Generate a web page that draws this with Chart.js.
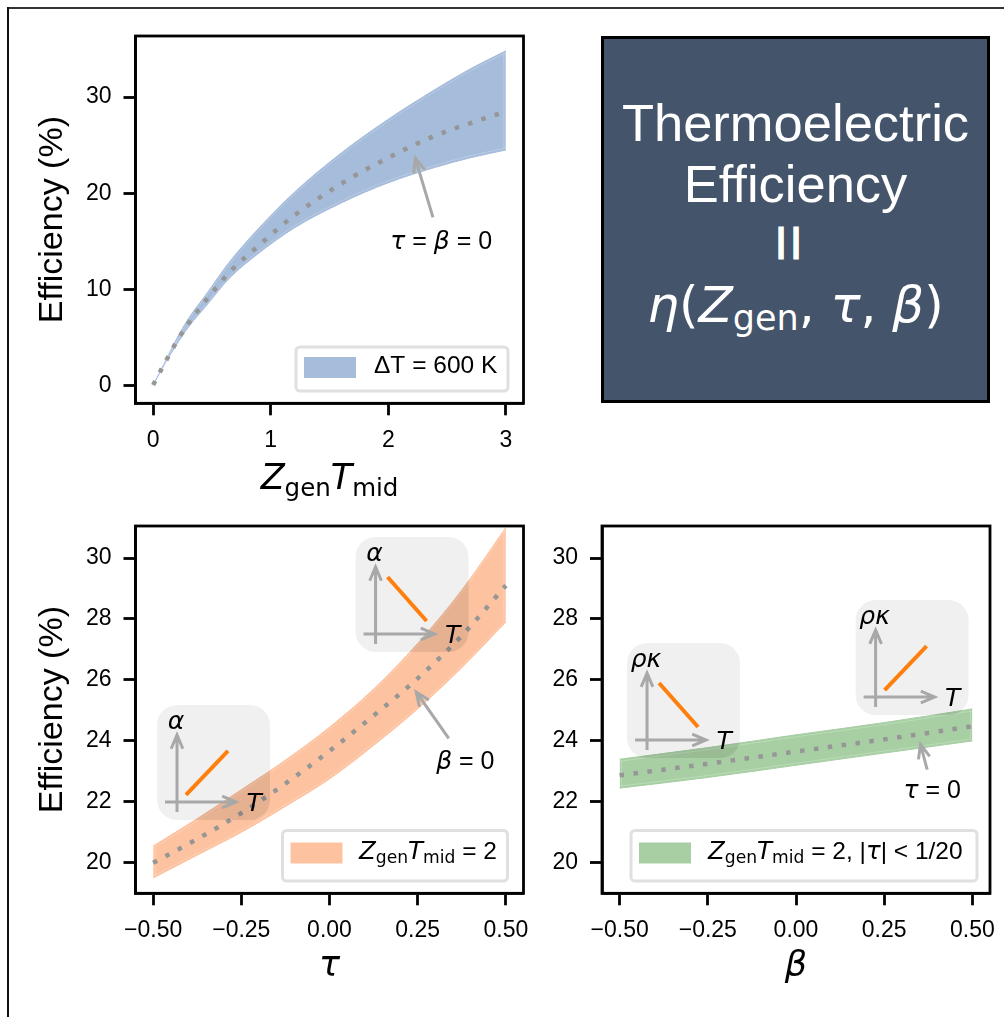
<!DOCTYPE html>
<html>
<head>
<meta charset="utf-8">
<script src="https://cdn.jsdelivr.net/npm/chart.js@4"></script>
<style>
html, body { margin: 0; padding: 0; background: #fff; }
body { position: relative; width: 1004px; height: 1017px; overflow: hidden; }
canvas { position: absolute; }
#frameTop { position: absolute; left: 7px; top: 7px; width: 997px; height: 2px; background: #333; }
#frameLeft { position: absolute; left: 7px; top: 7px; width: 2px; height: 1010px; background: #111; }
#box { position: absolute; left: 601px; top: 36px; width: 383px; height: 361px; background: #44546a; border: 3px solid #000; }
#box div { position: absolute; left: 0; width: 100%; text-align: center; color: #fff; white-space: nowrap; }
.word { font: 52.5px/60px "Liberation Sans", sans-serif; }
.bars { font: 47px/60px "Liberation Sans", sans-serif; letter-spacing: 2px; -webkit-text-stroke: 1px #fff; }
.math { font: 50px/60px "DejaVu Sans", sans-serif; }
.math i { font-style: italic; }
.math sub { font-size: 35px; vertical-align: baseline; position: relative; top: 8px; line-height: 0; }
</style>
</head>
<body>
<div id="frameTop"></div>
<div id="frameLeft"></div>
<canvas id="zt" width="560" height="510" style="left:0;top:0"></canvas>
<canvas id="tau" width="540" height="507" style="left:0;top:510px"></canvas>
<canvas id="beta" width="464" height="507" style="left:540px;top:510px"></canvas>
<div id="box">
  <div class="word" style="top:54px">Thermoelectric</div>
  <div class="word" style="top:115px">Efficiency</div>
  <div class="bars" style="top:174px;left:-6px">II</div>
  <div class="math" style="top:236px"><i>η</i>(<i>Z</i><sub>gen</sub>, <i>τ</i>, <i>β</i>)</div>
</div>
<script>
// panel 1: efficiency against ZT
var ztX =     [0, 0.1, 0.2, 0.3, 0.45, 0.65, 0.9, 1.2, 1.6, 2, 2.4, 2.7, 3];
var ztUpper = [0.1, 2.5, 4.9, 7, 9.5, 12.9, 16.4, 20.1, 24.2, 27.7, 30.8, 32.95, 34.8];
var ztMid =   [0.1, 2.4, 4.6, 6.5, 8.9, 11.8, 14.6, 17.7, 21, 23.7, 26, 27.3, 28.5];
var ztLower = [0.1, 2.3, 4.3, 6.1, 8.3, 11.2, 13.8, 16.4, 19, 21.1, 22.7, 23.7, 24.5];
var ztTicksX = [0, 1, 2, 3];
var ztTicksY = [0, 10, 20, 30];

// panel 2: efficiency against tau
var tauX =     [-0.5, -0.375, -0.25, -0.125, 0, 0.125, 0.25, 0.375, 0.5];
var tauUpper = [20.55, 21.45, 22.4, 23.37, 24.45, 25.7, 27.2, 28.95, 31];
var tauMid =   [20, 20.78, 21.63, 22.6, 23.67, 24.83, 26.05, 27.45, 29.1];
var tauLower = [19.5, 20.25, 21, 21.85, 22.75, 23.85, 25.05, 26.4, 27.9];

// panel 3: efficiency against beta
var betaX =     [-0.5, -0.25, 0, 0.25, 0.5];
var betaUpper = [23.4, 23.78, 24.2, 24.6, 25.05];
var betaMid =   [22.87, 23.25, 23.65, 24.05, 24.48];
var betaLower = [22.45, 22.8, 23.2, 23.6, 24];

var fracTicksX = [-0.5, -0.25, 0, 0.25, 0.5];
var fracLabels = ['\u22120.50', '\u22120.25', '0.00', '0.25', '0.50'];
var effTicksY = [20, 22, 24, 26, 28, 30];

var MATH = '"DejaVu Sans"';
var SANS = '"Liberation Sans"';
var GREY = '#a8a8a8';
var ORANGE = '#ff7f0e';

// draws a row of text runs, with italics and subscripts
function runs(ctx, parts, x, y, size, align) {
  function font(p) {
    var s = p.sub ? size * 0.7 : size;
    var fam = p.sans ? SANS : MATH;
    return (p.i ? 'italic ' : '') + s + 'px ' + fam;
  }
  var w = 0;
  parts.forEach(function (p) { ctx.font = font(p); w += ctx.measureText(p.t).width; });
  var cx = align === 'left' ? x : x - w / 2;
  ctx.textAlign = 'left';
  ctx.textBaseline = 'alphabetic';
  ctx.fillStyle = '#000';
  parts.forEach(function (p) {
    ctx.font = font(p);
    ctx.fillText(p.t, cx, p.sub ? y + size * 0.2 : y);
    cx += ctx.measureText(p.t).width;
  });
}

function arrow(ctx, x1, y1, x2, y2, lw, head) {
  var a = Math.atan2(y2 - y1, x2 - x1);
  ctx.save();
  ctx.strokeStyle = GREY;
  ctx.lineWidth = lw;
  ctx.beginPath();
  ctx.moveTo(x1, y1);
  ctx.lineTo(x2, y2);
  ctx.moveTo(x2 - head * Math.cos(a - 0.4), y2 - head * Math.sin(a - 0.4));
  ctx.lineTo(x2, y2);
  ctx.lineTo(x2 - head * Math.cos(a + 0.4), y2 - head * Math.sin(a + 0.4));
  ctx.stroke();
  ctx.restore();
}

// small sketch of a property against T
function inset(chart, spec) {
  var ctx = chart.ctx;
  var bx = chart.scales.x.getPixelForValue(spec.x);
  var by = chart.scales.y.getPixelForValue(spec.y);
  ctx.save();
  ctx.translate(bx, by);
  ctx.beginPath();
  ctx.roundRect(0, 0, 113, 115, 20);
  // the band shows darker through the grey box
  ctx.globalCompositeOperation = 'source-atop';
  ctx.fillStyle = 'rgba(0,0,0,0.03)';
  ctx.fill();
  ctx.globalCompositeOperation = 'source-over';
  ctx.fillStyle = 'rgba(0,0,0,0.06)';
  ctx.fill();
  arrow(ctx, 20, 107, 20, 30, 3, 15);
  arrow(ctx, 8, 97, 79, 97, 3, 15);
  ctx.strokeStyle = ORANGE;
  ctx.lineWidth = 4;
  ctx.beginPath();
  if (spec.up) { ctx.moveTo(29, 90); ctx.lineTo(71, 46); }
  else { ctx.moveTo(32, 40); ctx.lineTo(71, 84); }
  ctx.stroke();
  runs(ctx, [{ t: spec.label, i: true }], 19, 24, 25);
  runs(ctx, [{ t: 'T', i: true }], 97, 106, 25);
  ctx.restore();
}

function legendBox(ctx, spec) {
  ctx.save();
  ctx.strokeStyle = '#e0e0e0';
  ctx.lineWidth = 3;
  ctx.fillStyle = 'rgba(255,255,255,0.8)';
  ctx.beginPath();
  ctx.roundRect(spec.x, spec.y, spec.w, spec.h, 4);
  ctx.fill();
  ctx.stroke();
  ctx.fillStyle = spec.color;
  ctx.fillRect(spec.x + 8, spec.y + spec.swatchY, 52, 21);
  ctx.restore();
  runs(ctx, spec.parts, spec.textX, spec.y + spec.base, 24.5, 'left');
}

// faint lighter rim just inside the band edges
function rim(chart) {
  var ctx = chart.ctx, up = chart.getDatasetMeta(1), lo = chart.getDatasetMeta(2);
  var a = up.data[0], b = up.data[up.data.length - 1];
  var c = lo.data[0], d = lo.data[lo.data.length - 1];
  ctx.save();
  ctx.beginPath();
  ctx.rect(chart.chartArea.left, chart.chartArea.top, chart.chartArea.width, chart.chartArea.height);
  ctx.clip();
  ctx.strokeStyle = 'rgba(255,255,255,0.22)';
  ctx.lineWidth = 1;
  ctx.save();
  ctx.translate(0, 2);
  ctx.beginPath();
  up.dataset.path(ctx);
  ctx.stroke();
  ctx.restore();
  ctx.save();
  ctx.translate(0, -2);
  ctx.beginPath();
  lo.dataset.path(ctx);
  ctx.stroke();
  ctx.restore();
  ctx.beginPath();
  ctx.moveTo(a.x + 2, a.y + 2);
  ctx.lineTo(c.x + 2, c.y - 2);
  ctx.moveTo(b.x - 2, b.y + 2);
  ctx.lineTo(d.x - 2, d.y - 2);
  ctx.stroke();
  ctx.restore();
}

function panelPlugin(spec) {
  return {
    id: 'panel',
    beforeDatasetDraw: function (chart, args) {
      if (args.index === 0) rim(chart);
    },
    afterDatasetsDraw: function (chart) {
      var ctx = chart.ctx, sx = chart.scales.x, sy = chart.scales.y, a = chart.chartArea;
      (spec.insets || []).forEach(function (s) { inset(chart, s); });
      var n = spec.note;
      arrow(ctx, sx.getPixelForValue(n.from[0]), sy.getPixelForValue(n.from[1]),
        sx.getPixelForValue(n.to[0]), sy.getPixelForValue(n.to[1]), 3, 15);
      runs(ctx, n.parts, sx.getPixelForValue(n.at[0]), sy.getPixelForValue(n.at[1]), 25);
      legendBox(ctx, spec.legend);
      ctx.save();
      ctx.strokeStyle = '#000';
      ctx.lineWidth = 2.8;
      ctx.strokeRect(a.left, a.top, a.right - a.left, a.bottom - a.top);
      ctx.restore();
      if (spec.xTitle) runs(ctx, spec.xTitle, (a.left + a.right) / 2, spec.xTitleY, 35);
    }
  };
}

function makePanel(id, xs, mid, upper, lower, color, cfg) {
  function pts(v) { return xs.map(function (x, i) { return { x: x, y: v[i] }; }); }
  var tick = { color: '#000', font: { family: SANS, size: 23 }, padding: 12, maxRotation: 0, autoSkip: false };
  var grid = { drawOnChartArea: false, tickLength: 12, tickWidth: 2.8, tickColor: '#000' };
  new Chart(document.getElementById(id), {
    type: 'line',
    data: {
      datasets: [
        { data: pts(mid), borderColor: '#969696', borderWidth: 4.5, borderDash: [4.5, 9.5], pointRadius: 0, cubicInterpolationMode: 'monotone', fill: false },
        { data: pts(upper), borderColor: color, borderWidth: 1, pointRadius: 0, cubicInterpolationMode: 'monotone', backgroundColor: color, fill: '+1' },
        { data: pts(lower), borderColor: color, borderWidth: 1, pointRadius: 0, cubicInterpolationMode: 'monotone', fill: false }
      ]
    },
    options: {
      responsive: false,
      animation: false,
      layout: { padding: cfg.padding },
      plugins: { legend: { display: false }, tooltip: { enabled: false } },
      scales: {
        x: {
          type: 'linear',
          min: cfg.xRange[0], max: cfg.xRange[1],
          grid: grid,
          border: { color: '#000', width: 2.8 },
          title: cfg.xName ? { display: true, text: cfg.xName, color: '#000', font: { family: MATH, style: 'italic', size: 35 }, padding: { top: 0, bottom: 29 } } : { display: false },
          ticks: Object.assign({ callback: function (v, i) { return cfg.xLabels[i]; } }, tick),
          afterBuildTicks: function (s) { s.ticks = cfg.xTicks.map(function (v) { return { value: v }; }); },
          afterFit: function (s) { s.height = cfg.xHeight; s.paddingLeft = 0; s.paddingRight = 0; }
        },
        y: {
          min: cfg.yRange[0], max: cfg.yRange[1],
          grid: grid,
          border: { color: '#000', width: 2.8 },
          title: { display: cfg.yTitle, text: 'Efficiency (%)', color: '#000', font: { family: SANS, size: 34 }, padding: { top: 0, bottom: 0 } },
          ticks: Object.assign({ callback: function (v) { return String(v); } }, tick),
          afterBuildTicks: function (s) { s.ticks = cfg.yTicks.map(function (v) { return { value: v }; }); },
          afterFit: function (s) { s.width = cfg.yWidth; s.paddingTop = 0; s.paddingBottom = 0; }
        }
      }
    },
    plugins: [panelPlugin(cfg)]
  });
}

var eq = function (t) { return { t: t, sans: true }; };

makePanel('zt', ztX, ztMid, ztUpper, ztLower, '#a6bcdb', {
  padding: { top: 36, right: 36.5, bottom: 0, left: 32 },
  xRange: [-0.15, 3.15], yRange: [-1.8, 36.34],
  xTicks: ztTicksX, xLabels: ['0', '1', '2', '3'], yTicks: ztTicksY,
  xHeight: 106.7, yWidth: 103.5, yTitle: true,
  xTitle: [{ t: 'Z', i: true }, { t: 'gen', sub: true }, { t: 'T', i: true }, { t: 'mid', sub: true }],
  xTitleY: 489,
  note: { from: [2.38, 17.5], to: [2.23, 23.64], at: [2.45, 14.2], parts: [{ t: 'τ', i: true }, eq(' = '), { t: 'β', i: true }, eq(' = 0')] },
  legend: { x: 296, y: 347, w: 212, h: 44, color: '#a6bcdb', swatchY: 10, base: 26, textX: 374, parts: [eq('ΔT = 600 K')] }
});

makePanel('tau', tauX, tauMid, tauUpper, tauLower, '#fdc3a0', {
  padding: { top: 16, right: 16.5, bottom: 0, left: 32 },
  xRange: [-0.55, 0.55], yRange: [19, 31.05],
  xTicks: fracTicksX, xLabels: fracLabels, yTicks: effTicksY,
  xHeight: 123.7, yWidth: 103.5, yTitle: true, xName: 'τ',
  insets: [{ x: -0.489, y: 25.18, up: true, label: 'α' }, { x: 0.0739, y: 30.69, up: false, label: 'α' }],
  note: { from: [0.338, 24.08], to: [0.246, 25.6], at: [0.385, 23.07], parts: [{ t: 'β', i: true }, eq(' = 0')] },
  legend: { x: 282.5, y: 320.5, w: 225, h: 50.5, color: '#fdc3a0', swatchY: 12, base: 28, textX: 359, parts: [{ t: 'Z', i: true }, { t: 'gen', sub: true }, { t: 'T', i: true }, { t: 'mid', sub: true }, eq(' = 2')] }
});

makePanel('beta', betaX, betaMid, betaUpper, betaLower, '#a8cfa4', {
  padding: { top: 16, right: 14, bottom: 0, left: 0 },
  xRange: [-0.55, 0.55], yRange: [19, 31.05],
  xTicks: fracTicksX, xLabels: fracLabels, yTicks: effTicksY,
  xHeight: 123.7, yWidth: 62, yTitle: false, xName: 'β',
  insets: [{ x: -0.479, y: 27.21, up: false, label: 'ρκ' }, { x: 0.169, y: 28.62, up: true, label: 'ρκ' }],
  note: { from: [0.372, 23.06], to: [0.353, 23.88], at: [0.386, 22.12], parts: [{ t: 'τ', i: true }, eq(' = 0')] },
  legend: { x: 91, y: 320.5, w: 346, h: 50.5, color: '#a8cfa4', swatchY: 12, base: 28, textX: 168, parts: [{ t: 'Z', i: true }, { t: 'gen', sub: true }, { t: 'T', i: true }, { t: 'mid', sub: true }, eq(' = 2, |'), { t: 'τ', i: true }, eq('| < 1/20')] }
});
</script>
</body>
</html>
